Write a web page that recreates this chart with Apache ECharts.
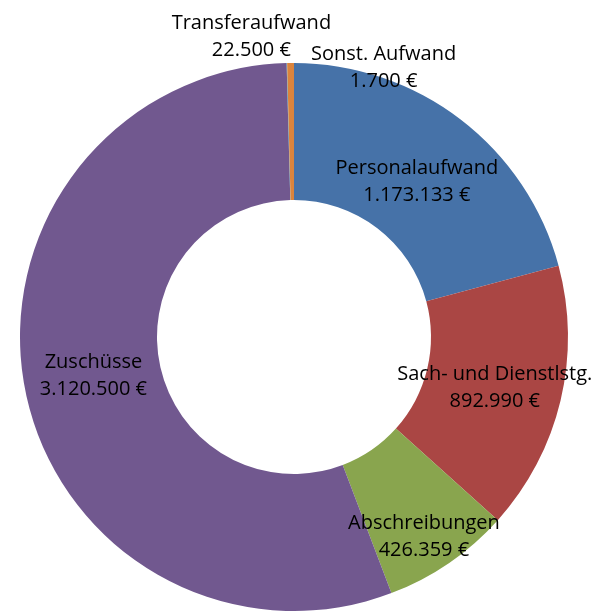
<!DOCTYPE html>
<html>
<head>
<meta charset="utf-8">
<script src="https://cdn.jsdelivr.net/npm/echarts@6/dist/echarts.min.js"></script>
<style>
  html, body { margin: 0; padding: 0; background: #fff; }
  #chart { width: 601px; height: 611px; }
</style>
</head>
<body>
<div id="chart"></div>
<script>
// Aufwand nach Kostenarten (Werte in €)
const categories = ['Personalaufwand', 'Sach- und Dienstlstg.', 'Abschreibungen', 'Zuschüsse', 'Sonst. Aufwand', 'Transferaufwand'];
const values = [1173133, 892990, 426359, 3120500, 1700, 22500];
const colors = ['#4672a8', '#aa4644', '#89a54e', '#71588f', '#4198af', '#db843d'];

// Label-Verschiebungen (wie in der Vorlage händisch verschoben)
const labelOffsets = [[-4, 10], [-2, 2], [12, 28], [4, -2], [95, -61], [-40, -92]];

function fmt(v) {
  return String(v).replace(/\B(?=(\d{3})+(?!\d))/g, '.') + ' €';
}

const chart = echarts.init(document.getElementById('chart'));

const data = categories.map((name, i) => ({
  name: name,
  value: values[i],
  itemStyle: { color: colors[i] },
  label: { offset: labelOffsets[i] },
}));

chart.setOption({
  animation: false,
  series: [
    {
      type: 'pie',
      center: [294, 337],
      radius: [137, 274],
      startAngle: 90,
      clockwise: true,
      avoidLabelOverlap: false,
      itemStyle: { borderWidth: 0 },
      label: {
        show: true,
        position: 'inside',
        formatter: p => p.name + '\n' + fmt(p.value),
        color: '#000',
        fontFamily: 'Open Sans',
        fontSize: 20,
        lineHeight: 27,
      },
      labelLayout: { hideOverlap: false },
      labelLine: { show: false },
      emphasis: { disabled: true },
      data: data,
    },
  ],
});
</script>
</body>
</html>
